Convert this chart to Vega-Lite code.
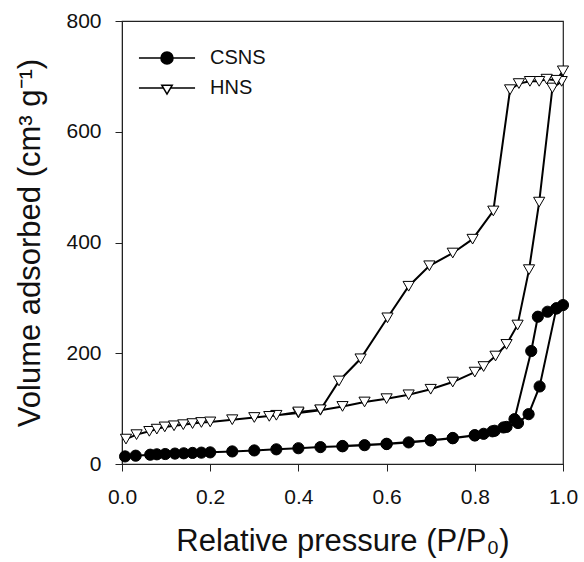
{
  "$schema": "https://vega.github.io/schema/vega-lite/v6.json",
  "autosize": {"type": "none"},
  "padding": {"left": 122, "top": 21, "right": 21, "bottom": 98},
  "width": 441,
  "height": 443,
  "background": "white",
  "config": {
    "font": "Liberation Sans",
    "view": {"stroke": "#222", "strokeWidth": 1.2},
    "axis": {"grid": false, "domainColor": "#222", "tickColor": "#222", "labelColor": "#111", "titleColor": "#111", "labelFont": "Liberation Sans", "titleFont": "Liberation Sans", "titleFontWeight": "normal", "labelFlush": false},
    "legend": {"labelFont": "Liberation Sans", "labelFontSize": 20, "labelColor": "#111", "padding": 0, "title": null}
  },
  "data": {"values": [
    {"s": "CSNS", "i": 1, "p": 0.007, "v": 13.7},
    {"s": "CSNS", "i": 2, "p": 0.031, "v": 15},
    {"s": "CSNS", "i": 3, "p": 0.064, "v": 16.8},
    {"s": "CSNS", "i": 4, "p": 0.079, "v": 17.5},
    {"s": "CSNS", "i": 5, "p": 0.098, "v": 18},
    {"s": "CSNS", "i": 6, "p": 0.12, "v": 18.8},
    {"s": "CSNS", "i": 7, "p": 0.14, "v": 19.3},
    {"s": "CSNS", "i": 8, "p": 0.16, "v": 20},
    {"s": "CSNS", "i": 9, "p": 0.18, "v": 20.5},
    {"s": "CSNS", "i": 10, "p": 0.2, "v": 21},
    {"s": "CSNS", "i": 11, "p": 0.25, "v": 22.7},
    {"s": "CSNS", "i": 12, "p": 0.3, "v": 24.5},
    {"s": "CSNS", "i": 13, "p": 0.35, "v": 26.5},
    {"s": "CSNS", "i": 14, "p": 0.4, "v": 28.5},
    {"s": "CSNS", "i": 15, "p": 0.45, "v": 30.5},
    {"s": "CSNS", "i": 16, "p": 0.5, "v": 32},
    {"s": "CSNS", "i": 17, "p": 0.55, "v": 34},
    {"s": "CSNS", "i": 18, "p": 0.6, "v": 36},
    {"s": "CSNS", "i": 19, "p": 0.65, "v": 39},
    {"s": "CSNS", "i": 20, "p": 0.7, "v": 42.5},
    {"s": "CSNS", "i": 21, "p": 0.75, "v": 46.5},
    {"s": "CSNS", "i": 22, "p": 0.8, "v": 51.5},
    {"s": "CSNS", "i": 23, "p": 0.82, "v": 54.5},
    {"s": "CSNS", "i": 24, "p": 0.845, "v": 60},
    {"s": "CSNS", "i": 25, "p": 0.872, "v": 67},
    {"s": "CSNS", "i": 26, "p": 0.898, "v": 74},
    {"s": "CSNS", "i": 27, "p": 0.922, "v": 90},
    {"s": "CSNS", "i": 28, "p": 0.947, "v": 140},
    {"s": "CSNS", "i": 29, "p": 0.985, "v": 281},
    {"s": "CSNS", "i": 30, "p": 1.0, "v": 287},
    {"s": "CSNS", "i": 31, "p": 0.985, "v": 281},
    {"s": "CSNS", "i": 32, "p": 0.965, "v": 275},
    {"s": "CSNS", "i": 33, "p": 0.943, "v": 266},
    {"s": "CSNS", "i": 34, "p": 0.928, "v": 204},
    {"s": "CSNS", "i": 35, "p": 0.89, "v": 81},
    {"s": "CSNS", "i": 36, "p": 0.865, "v": 66},
    {"s": "CSNS", "i": 37, "p": 0.84, "v": 59},
    {"s": "CSNS", "i": 38, "p": 0.8, "v": 52},
    {"s": "CSNS", "i": 39, "p": 0.75, "v": 47},
    {"s": "CSNS", "i": 40, "p": 0.7, "v": 43},
    {"s": "CSNS", "i": 41, "p": 0.6, "v": 36.5},
    {"s": "CSNS", "i": 42, "p": 0.5, "v": 32.5},
    {"s": "HNS", "i": 1, "p": 0.009, "v": 45},
    {"s": "HNS", "i": 2, "p": 0.033, "v": 53},
    {"s": "HNS", "i": 3, "p": 0.062, "v": 59},
    {"s": "HNS", "i": 4, "p": 0.079, "v": 63},
    {"s": "HNS", "i": 5, "p": 0.097, "v": 67},
    {"s": "HNS", "i": 6, "p": 0.118, "v": 69},
    {"s": "HNS", "i": 7, "p": 0.139, "v": 71},
    {"s": "HNS", "i": 8, "p": 0.16, "v": 73},
    {"s": "HNS", "i": 9, "p": 0.18, "v": 75},
    {"s": "HNS", "i": 10, "p": 0.2, "v": 76},
    {"s": "HNS", "i": 11, "p": 0.25, "v": 80},
    {"s": "HNS", "i": 12, "p": 0.3, "v": 84},
    {"s": "HNS", "i": 13, "p": 0.35, "v": 88},
    {"s": "HNS", "i": 14, "p": 0.4, "v": 92},
    {"s": "HNS", "i": 15, "p": 0.45, "v": 97},
    {"s": "HNS", "i": 16, "p": 0.5, "v": 104},
    {"s": "HNS", "i": 17, "p": 0.55, "v": 112},
    {"s": "HNS", "i": 18, "p": 0.6, "v": 118},
    {"s": "HNS", "i": 19, "p": 0.65, "v": 125},
    {"s": "HNS", "i": 20, "p": 0.7, "v": 135},
    {"s": "HNS", "i": 21, "p": 0.75, "v": 148},
    {"s": "HNS", "i": 22, "p": 0.8, "v": 166},
    {"s": "HNS", "i": 23, "p": 0.82, "v": 176},
    {"s": "HNS", "i": 24, "p": 0.847, "v": 195},
    {"s": "HNS", "i": 25, "p": 0.872, "v": 216},
    {"s": "HNS", "i": 26, "p": 0.897, "v": 251},
    {"s": "HNS", "i": 27, "p": 0.923, "v": 351},
    {"s": "HNS", "i": 28, "p": 0.946, "v": 473},
    {"s": "HNS", "i": 29, "p": 0.976, "v": 679},
    {"s": "HNS", "i": 30, "p": 0.997, "v": 691},
    {"s": "HNS", "i": 31, "p": 1.0, "v": 710},
    {"s": "HNS", "i": 32, "p": 0.985, "v": 693},
    {"s": "HNS", "i": 33, "p": 0.963, "v": 695},
    {"s": "HNS", "i": 34, "p": 0.946, "v": 691},
    {"s": "HNS", "i": 35, "p": 0.925, "v": 691},
    {"s": "HNS", "i": 36, "p": 0.9, "v": 687},
    {"s": "HNS", "i": 37, "p": 0.88, "v": 676},
    {"s": "HNS", "i": 38, "p": 0.842, "v": 457},
    {"s": "HNS", "i": 39, "p": 0.795, "v": 406},
    {"s": "HNS", "i": 40, "p": 0.75, "v": 381},
    {"s": "HNS", "i": 41, "p": 0.697, "v": 358},
    {"s": "HNS", "i": 42, "p": 0.65, "v": 321},
    {"s": "HNS", "i": 43, "p": 0.602, "v": 264},
    {"s": "HNS", "i": 44, "p": 0.541, "v": 190},
    {"s": "HNS", "i": 45, "p": 0.492, "v": 150},
    {"s": "HNS", "i": 46, "p": 0.45, "v": 98},
    {"s": "HNS", "i": 47, "p": 0.4, "v": 94},
    {"s": "HNS", "i": 48, "p": 0.334, "v": 86}
  ]},
  "encoding": {
    "x": {"field": "p", "type": "quantitative", "scale": {"domain": [0, 1], "nice": false, "zero": false},
      "axis": {"title": "Relative pressure (P/P₀)", "values": [0, 0.2, 0.4, 0.6, 0.8, 1.0], "format": ".1f", "labelFontSize": 21, "titleFontSize": 31, "tickSize": 7, "labelPadding": 15, "titlePadding": 19}},
    "y": {"field": "v", "type": "quantitative", "scale": {"domain": [0, 800], "nice": false},
      "axis": {"title": "Volume adsorbed (cm³ g⁻¹)", "values": [0, 200, 400, 600, 800], "labelFontSize": 21, "titleFontSize": 31, "tickSize": 7, "labelPadding": 14, "titlePadding": 19}}
  },
  "resolve": {"scale": {"shape": "independent", "fill": "independent", "stroke": "independent"}, "legend": {"shape": "independent", "fill": "independent", "stroke": "independent"}},
  "layer": [
    {
      "mark": {"type": "line", "color": "black", "strokeWidth": 2},
      "encoding": {"detail": {"field": "s"}, "order": {"field": "i", "type": "quantitative"}}
    },
    {
      "mark": {"type": "point", "filled": false, "strokeWidth": 1, "opacity": 1},
      "encoding": {
        "shape": {"field": "s", "type": "nominal", "scale": {"domain": ["CSNS", "HNS"], "range": ["circle", "triangle-down"]}, "legend": null},
        "fill": {"field": "s", "type": "nominal", "scale": {"domain": ["CSNS", "HNS"], "range": ["black", "white"]}, "legend": null},
        "stroke": {"value": "black"},
        "size": {"value": 125},
        "fillOpacity": {"value": 1}
      }
    },
    {
      "transform": [{"filter": "datum.i < 0"}],
      "mark": {"type": "point", "filled": false, "color": "black", "strokeWidth": 1.6, "opacity": 1, "size": 121,
        "shape": "M-5.1,0H5.1M1.1,0A1.1,1.1,0,1,1,-1.1,0A1.1,1.1,0,1,1,1.1,0Z"},
      "encoding": {
        "fill": {"field": "s", "type": "nominal", "scale": {"domain": ["CSNS"], "range": ["black"]},
          "legend": {"orient": "none", "legendX": 35, "legendY": 27, "labelOffset": 33, "symbolSize": 121}}
      }
    },
    {
      "transform": [{"filter": "datum.i < 0"}],
      "mark": {"type": "point", "filled": false, "color": "black", "strokeWidth": 1.6, "opacity": 1, "size": 121,
        "shape": "M-5.1,0H-0.65M0.65,0H5.1M-0.95,-0.5L0.95,-0.5L0,1.1Z"},
      "encoding": {
        "stroke": {"field": "s", "type": "nominal", "scale": {"domain": ["HNS"], "range": ["black"]},
          "legend": {"orient": "none", "legendX": 35, "legendY": 57, "labelOffset": 33, "symbolSize": 121}}
      }
    }
  ]
}
